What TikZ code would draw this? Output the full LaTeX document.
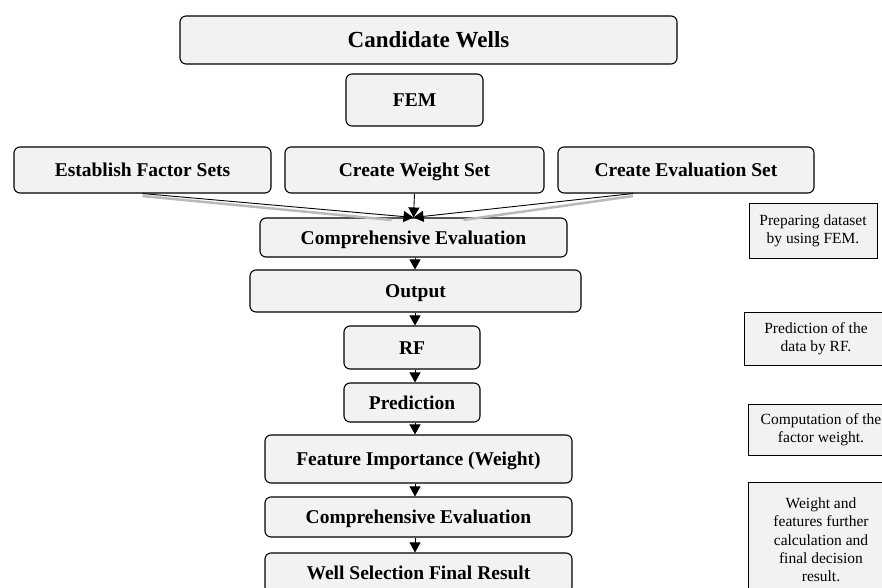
\documentclass[tikz,border=0pt]{standalone}
\usepackage{fontspec}
\setmainfont{Liberation Serif}
\usetikzlibrary{arrows.meta,shadows}
\definecolor{boxfill}{HTML}{F2F2F2}

\begin{document}
\begin{tikzpicture}[x=1pt,y=-1pt,
    stage/.style={draw, line width=1.1pt, rounded corners=6pt, fill=boxfill,
      inner sep=0pt, text height=13.5pt, text depth=0pt,
      font=\fontsize{19.5}{22}\selectfont\bfseries},
    note/.style={draw, line width=0.8pt, fill=boxfill, align=center, inner sep=0pt,
      font=\fontsize{15.5}{18.3}\selectfont,
      drop shadow={shadow xshift=1.4pt, shadow yshift=-1.4pt, fill=black, opacity=.85}},
    arr/.style={line width=0.9pt, -{Triangle[length=10pt,width=11pt]}},
    arrshade/.style={line width=2.5pt, gray!55}]
  \useasboundingbox (0,0) rectangle (882,588);

  % top
  \node[stage, minimum width=497pt, minimum height=48pt, text height=16pt,
    font=\fontsize{23}{26}\selectfont\bfseries] (cand) at (428.5,40) {Candidate Wells};
  \node[stage, minimum width=137pt, minimum height=52pt] (fem) at (414.5,100) {FEM};

  % sets
  \node[stage, minimum width=257pt, minimum height=46pt] (est) at (142.5,170) {Establish Factor Sets};
  \node[stage, minimum width=259pt, minimum height=46pt] (wset) at (414.5,170) {Create Weight Set};
  \node[stage, minimum width=256pt, minimum height=46pt] (eset) at (686,170) {Create Evaluation Set};

  % main column
  \node[stage, minimum width=307pt, minimum height=39pt] (ce1) at (413.5,237.5) {Comprehensive Evaluation};
  \node[stage, minimum width=331pt, minimum height=42pt] (out) at (415.5,291) {Output};
  \node[stage, minimum width=136pt, minimum height=43pt] (rf) at (412,347.5) {RF};
  \node[stage, minimum width=136pt, minimum height=39pt] (pred) at (412,402.5) {Prediction};
  \node[stage, minimum width=307pt, minimum height=48pt] (feat) at (418.5,459) {Feature Importance (Weight)};
  \node[stage, minimum width=307pt, minimum height=40pt] (ce2) at (418.5,517) {Comprehensive Evaluation};
  \node[stage, minimum width=307pt, minimum height=40pt] (final) at (418.5,573) {Well Selection Final Result};
  \coordinate (spine) at (415,0);

  % notes
  \node[note, minimum width=128pt, minimum height=55pt] (n1) at (813,230.5)
    {Preparing dataset\\by using FEM.};
  \node[note, minimum width=144pt, minimum height=53pt] (n2) at (816,338.5)
    {Prediction of the\\data by RF.};
  \node[note, minimum width=146pt, minimum height=51pt] (n3) at (821,429.5)
    {Computation of the\\factor weight.};
  \node[note, minimum width=146pt, minimum height=116pt] (n4) at (821,540)
    {Weight and\\features further\\calculation and\\final decision\\result.};

  % arrows
  \draw[arrshade] ([yshift=-2.5pt]est.south) -- ([xshift=-22pt,yshift=-2.5pt]ce1.north);
  \draw[arrshade] ([xshift=-53pt,yshift=-2.5pt]eset.south) -- ([xshift=50pt,yshift=-2.5pt]ce1.north);
  \draw[arr] (est.south) -- (ce1.north);
  \draw[arr] (wset.south) -- (ce1.north);
  \draw[arr] ([xshift=-53pt]eset.south) -- (ce1.north);
  \foreach \a/\b in {ce1/out, out/rf, rf/pred, pred/feat, feat/ce2, ce2/final}
    \draw[arr] (\a.south -| spine) -- (\b.north -| spine);
\end{tikzpicture}
\end{document}
